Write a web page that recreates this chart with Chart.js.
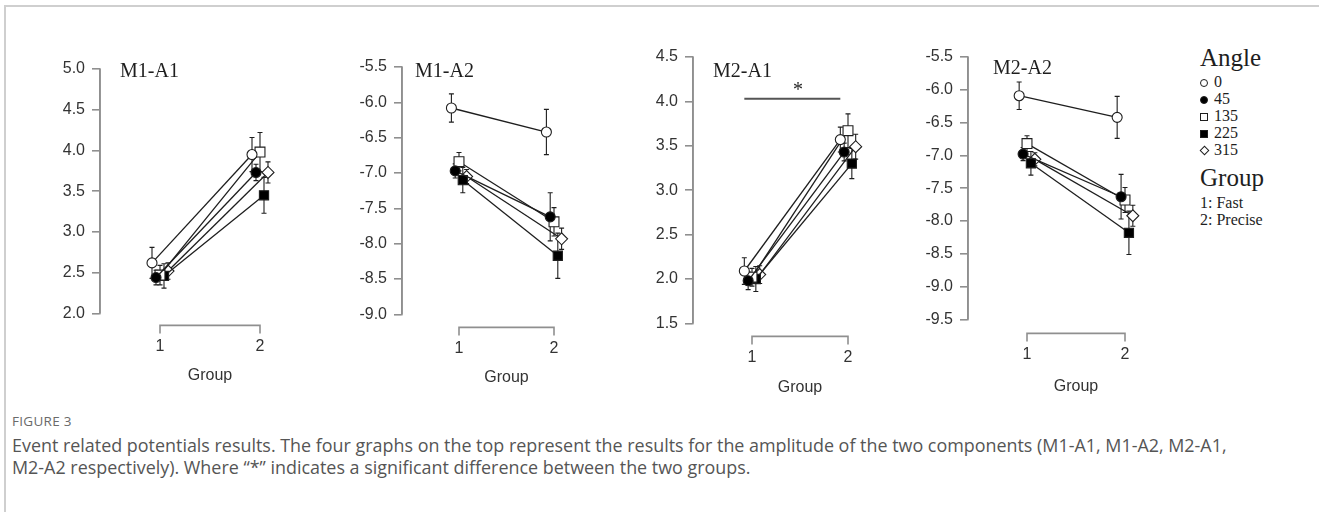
<!DOCTYPE html>
<html>
<head>
<meta charset="utf-8">
<script src="https://cdn.jsdelivr.net/npm/chart.js@4.4.1/dist/chart.umd.min.js"></script>
<style>
  html, body { margin: 0; padding: 0; background: #fff; }
  body { width: 1319px; height: 512px; position: relative; overflow: hidden; }
  .frame { position: absolute; left: 4px; top: 5px; width: 1330px; height: 520px;
           border-left: 2px solid #cfcfcf; border-top: 2px solid #cfcfcf; }
  canvas { position: absolute; top: 0; }
  .ptitle { position: absolute; font-family: "Liberation Serif", "Times New Roman", serif;
            font-size: 20px; line-height: 20px; color: #1e1e1e; white-space: nowrap; }
  .lg { position: absolute; font-family: "Liberation Serif", "Times New Roman", serif;
        color: #1e1e1e; white-space: nowrap; }
  .lg.head { font-size: 25px; line-height: 25px; }
  .lg.item { font-size: 16px; line-height: 16px; }
  .mk { position: absolute; box-sizing: border-box; }
  .cap { position: absolute; left: 12px; font-family: "Open Sans", "Noto Sans", sans-serif; white-space: nowrap; }
  .cap.fig { font-size: 13.5px; line-height: 14px; color: #6a6a6a; letter-spacing: 0.3px; }
  .cap.txt { font-size: 18px; line-height: 22px; color: #555; }
</style>
</head>
<body>
<div class="frame"></div>

<div class="cap fig" style="top:414px;">FIGURE 3</div>
<div class="cap txt" id="caption" style="top:434px;"><span id="capLine1">Event related potentials results. The four graphs on the top represent the results for the amplitude of the two components (M1-A1, M1-A2, M2-A1,</span><br>M2-A2 respectively). Where “*” indicates a significant difference between the two groups.</div>

<script>
// ---- data -------------------------------------------------------------
const angleLabels = ['0', '45', '135', '225', '315'];
const groupTicks = [1, 2];
const groupNames = ['1: Fast', '2: Precise'];

// mean amplitude for each angle: [group 1, group 2]
const m1a1Mean = [[2.62, 3.95], [2.44, 3.73], [2.47, 3.98], [2.46, 3.45], [2.52, 3.73]];
const m1a1Se   = [[0.19, 0.21], [0.09, 0.10], [0.12, 0.24], [0.15, 0.22], [0.10, 0.13]];
const m1a1Ticks = [2.0, 2.5, 3.0, 3.5, 4.0, 4.5, 5.0];

const m1a2Mean = [[-6.08, -6.42], [-6.97, -7.62], [-6.84, -7.69], [-7.10, -8.17], [-7.05, -7.93]];
const m1a2Se   = [[0.20, 0.32], [0.10, 0.34], [0.13, 0.20], [0.18, 0.32], [0.10, 0.15]];
const m1a2Ticks = [-9.0, -8.5, -8.0, -7.5, -7.0, -6.5, -6.0, -5.5];

const m2a1Mean = [[2.09, 3.57], [1.98, 3.43], [2.02, 3.67], [2.00, 3.30], [2.05, 3.49]];
const m2a1Se   = [[0.15, 0.14], [0.10, 0.10], [0.10, 0.19], [0.14, 0.17], [0.10, 0.14]];
const m2a1Ticks = [1.5, 2.0, 2.5, 3.0, 3.5, 4.0, 4.5];

const m2a2Mean = [[-6.09, -6.42], [-6.98, -7.63], [-6.82, -7.68], [-7.12, -8.18], [-7.06, -7.92]];
const m2a2Se   = [[0.21, 0.32], [0.10, 0.34], [0.12, 0.19], [0.18, 0.33], [0.10, 0.16]];
const m2a2Ticks = [-9.5, -9.0, -8.5, -8.0, -7.5, -7.0, -6.5, -6.0, -5.5];

// ---- styling -----------------------------------------------------------
const INK = '#1e1e1e';
const AXIS = '#8f8f8f';
const AXIS_W = 1.6;
const TICKFONT = { family: '"Liberation Sans", Arial, sans-serif', size: 16 };
const dodge = [-0.08, -0.04, 0, 0.04, 0.08];
const angleStyle = [
  { pointStyle: 'circle',  fill: '#ffffff', radius: 5 },
  { pointStyle: 'circle',  fill: '#000000', radius: 5 },
  { pointStyle: 'rect',    fill: '#ffffff', radius: 7 },
  { pointStyle: 'rect',    fill: '#000000', radius: 6.5 },
  { pointStyle: 'rectRot', fill: '#ffffff', radius: 6 }
];

// panel placement on the page (pixels)
const panels = [
  { title: 'M1-A1', mean: m1a1Mean, se: m1a1Se, ticks: m1a1Ticks,
    axisX: 100, topPx: 69, lowPx: 313, bracketPx: 325, g1: 160, g2: 260, titleGap: 50, titleTop: 60, titleLeft: 120 },
  { title: 'M1-A2', mean: m1a2Mean, se: m1a2Se, ticks: m1a2Ticks,
    axisX: 402, topPx: 67, lowPx: 314, bracketPx: 327, g1: 459, g2: 554, titleGap: 50, titleTop: 60, titleLeft: 415 },
  { title: 'M2-A1', mean: m2a1Mean, se: m2a1Se, ticks: m2a1Ticks,
    axisX: 693, topPx: 57, lowPx: 323, bracketPx: 336, g1: 752, g2: 848, titleGap: 51, titleTop: 60, titleLeft: 713,
    sig: { from: 0.92, to: 1.92, y: 4.03, labelX: 1.48, labelY: 4.17, text: '*' } },
  { title: 'M2-A2', mean: m2a2Mean, se: m2a2Se, ticks: m2a2Ticks,
    axisX: 968, topPx: 57, lowPx: 319, bracketPx: 333, g1: 1027, g2: 1125, titleGap: 53, titleTop: 57, titleLeft: 993 }
];

const BRACKET_TICK = 8;

// error bars under the markers, the offset axes and the significance bar
function panelDecor(gap, yLo, yHi, sig) {
  return {
    id: 'panelDecor',
    afterDraw(chart) {
      const ctx = chart.ctx;
      const xs = chart.scales.x, ys = chart.scales.y;
      const ax = chart.chartArea.left;
      ctx.save();
      ctx.strokeStyle = AXIS;
      ctx.lineWidth = AXIS_W;
      ctx.lineCap = 'butt';
      // y axis spine, lowest tick to highest tick
      ctx.beginPath();
      ctx.moveTo(ax, ys.getPixelForValue(yHi));
      ctx.lineTo(ax, ys.getPixelForValue(yLo));
      ctx.stroke();
      ctx.restore();
    },
    beforeDatasetsDraw(chart) {
      const ctx = chart.ctx;
      const xs = chart.scales.x, ys = chart.scales.y;

      // x axis bracket, set below the plot: group 1 to group 2 with end ticks
      const by = xs.top + gap;
      const bx1 = xs.getPixelForValue(groupTicks[0]);
      const bx2 = xs.getPixelForValue(groupTicks[groupTicks.length - 1]);
      ctx.save();
      ctx.strokeStyle = AXIS;
      ctx.lineWidth = AXIS_W;
      ctx.beginPath();
      ctx.moveTo(bx1, by + BRACKET_TICK); ctx.lineTo(bx1, by);
      ctx.lineTo(bx2, by); ctx.lineTo(bx2, by + BRACKET_TICK);
      ctx.stroke();
      ctx.restore();

      // error bars
      ctx.save();
      ctx.strokeStyle = INK;
      ctx.lineWidth = 1.1;
      chart.data.datasets.forEach(ds => {
        ds.data.forEach((pt, j) => {
          const px = xs.getPixelForValue(pt.x);
          const hi = ys.getPixelForValue(pt.y + ds.se[j]);
          const lo = ys.getPixelForValue(pt.y - ds.se[j]);
          ctx.beginPath();
          ctx.moveTo(px, hi); ctx.lineTo(px, lo);
          ctx.moveTo(px - 2.5, hi); ctx.lineTo(px + 2.5, hi);
          ctx.moveTo(px - 2.5, lo); ctx.lineTo(px + 2.5, lo);
          ctx.stroke();
        });
      });
      ctx.restore();

      // significance bar
      if (sig) {
        ctx.save();
        ctx.strokeStyle = '#555';
        ctx.lineWidth = 1.8;
        ctx.beginPath();
        ctx.moveTo(xs.getPixelForValue(sig.from), ys.getPixelForValue(sig.y));
        ctx.lineTo(xs.getPixelForValue(sig.to), ys.getPixelForValue(sig.y));
        ctx.stroke();
        ctx.fillStyle = INK;
        ctx.font = '20px "Liberation Serif", serif';
        ctx.textAlign = 'center';
        ctx.textBaseline = 'middle';
        ctx.fillText(sig.text, xs.getPixelForValue(sig.labelX), ys.getPixelForValue(sig.labelY) + 4);
        ctx.restore();
      }
    }
  };
}

function makePanel(p) {
  const left = p.axisX - 60;
  const right = p.g1 + p.g2 - p.axisX;       // keeps the x title centred on the bracket
  const gap = p.bracketPx - p.lowPx;          // space between y axis end and the x bracket
  const xAxisH = gap + p.titleGap + 9.6;
  const w = right - left;
  const h = Math.round(p.lowPx + xAxisH);

  const tMin = Math.min(...p.ticks), tMax = Math.max(...p.ticks);
  const pxPerX = p.g2 - p.g1;
  const xMin = groupTicks[0] - (p.g1 - p.axisX) / pxPerX;
  const xMax = groupTicks[1] + (right - p.g2) / pxPerX;

  const cv = document.createElement('canvas');
  cv.width = w; cv.height = h;
  cv.style.left = left + 'px';
  cv.style.width = w + 'px'; cv.style.height = h + 'px';
  document.body.appendChild(cv);

  const t = document.createElement('div');
  t.className = 'ptitle';
  t.textContent = p.title;
  t.style.left = p.titleLeft + 'px';
  t.style.top = p.titleTop + 'px';
  document.body.appendChild(t);

  const datasets = angleLabels.map((a, i) => ({
    label: a,
    data: groupTicks.map((g, j) => ({ x: g + dodge[i], y: p.mean[i][j] })),
    se: groupTicks.map((g, j) => p.se[i][j]),
    borderColor: INK,
    borderWidth: 1.3,
    pointStyle: angleStyle[i].pointStyle,
    pointRadius: angleStyle[i].radius,
    pointBackgroundColor: angleStyle[i].fill,
    pointBorderColor: INK,
    pointBorderWidth: 1.1,
    fill: false,
    tension: 0,
    clip: false
  }));

  new Chart(cv, {
    type: 'line',
    data: { datasets },
    options: {
      responsive: false,
      animation: false,
      events: [],
      layout: { autoPadding: false, padding: { top: p.topPx, left: 0, right: 0, bottom: 0 } },
      plugins: { legend: { display: false }, tooltip: { enabled: false } },
      scales: {
        x: {
          type: 'linear', min: xMin, max: xMax,
          afterBuildTicks: s => { s.ticks = groupTicks.map(v => ({ value: v })); },
          afterFit: s => { s.height = xAxisH; },
          ticks: { autoSkip: false, maxRotation: 0, minRotation: 0, padding: 4, color: '#333',
                   font: TICKFONT, callback: v => String(v) },
          grid: { drawOnChartArea: false, drawTicks: true, tickLength: gap + BRACKET_TICK,
                  tickColor: 'rgba(0,0,0,0)', color: 'rgba(0,0,0,0)' },
          border: { display: false },
          title: { display: true, text: 'Group', color: '#333', font: TICKFONT, padding: 0 }
        },
        y: {
          type: 'linear', min: tMin, max: tMax,
          afterBuildTicks: s => { s.ticks = p.ticks.map(v => ({ value: v })); },
          afterFit: s => { s.width = 60; },
          ticks: { autoSkip: false, padding: 7, color: '#333', font: TICKFONT,
                   callback: v => Number(v).toFixed(1) },
          grid: { drawOnChartArea: false, drawTicks: true, tickLength: 8, color: AXIS, lineWidth: AXIS_W },
          border: { display: true, color: AXIS, width: AXIS_W }
        }
      }
    },
    plugins: [panelDecor(gap, tMin, tMax, p.sig)]
  });
}

panels.forEach(makePanel);

// ---- legend -------------------------------------------------------------
function addText(cls, text, left, top) {
  const d = document.createElement('div');
  d.className = 'lg ' + cls;
  d.textContent = text;
  d.style.left = left + 'px';
  d.style.top = top + 'px';
  document.body.appendChild(d);
}
function addMarker(i, cx, cy) {
  const m = document.createElement('div');
  m.className = 'mk';
  const s = angleStyle[i];
  const size = s.pointStyle === 'rectRot' ? 7 : 8;
  m.style.width = size + 'px';
  m.style.height = size + 'px';
  m.style.left = (cx - size / 2) + 'px';
  m.style.top = (cy - size / 2) + 'px';
  m.style.background = s.fill;
  m.style.border = '1px solid ' + INK;
  if (s.pointStyle === 'circle') m.style.borderRadius = '50%';
  if (s.pointStyle === 'rectRot') m.style.transform = 'rotate(45deg)';
  document.body.appendChild(m);
}
addText('head', 'Angle', 1200, 44.5);
const legendY0 = 82.5, legendStep = 17;
angleLabels.forEach((a, i) => {
  const cy = legendY0 + i * legendStep;
  addMarker(i, 1204, cy);
  addText('item', a, 1214, cy - 8.5);
});
addText('head', 'Group', 1200, 164.5);
groupNames.forEach((g, i) => addText('item', g, 1200, 194.5 + i * 17));

// fit the caption's first line to the figure width
(function fitCaption() {
  const cap = document.getElementById('caption');
  const line = document.getElementById('capLine1');
  const target = 1215;
  const fs = parseFloat(getComputedStyle(cap).fontSize);
  const wNow = line.getBoundingClientRect().width;
  if (wNow > 0) cap.style.fontSize = (fs * target / wNow).toFixed(2) + 'px';
})();
</script>
</body>
</html>
